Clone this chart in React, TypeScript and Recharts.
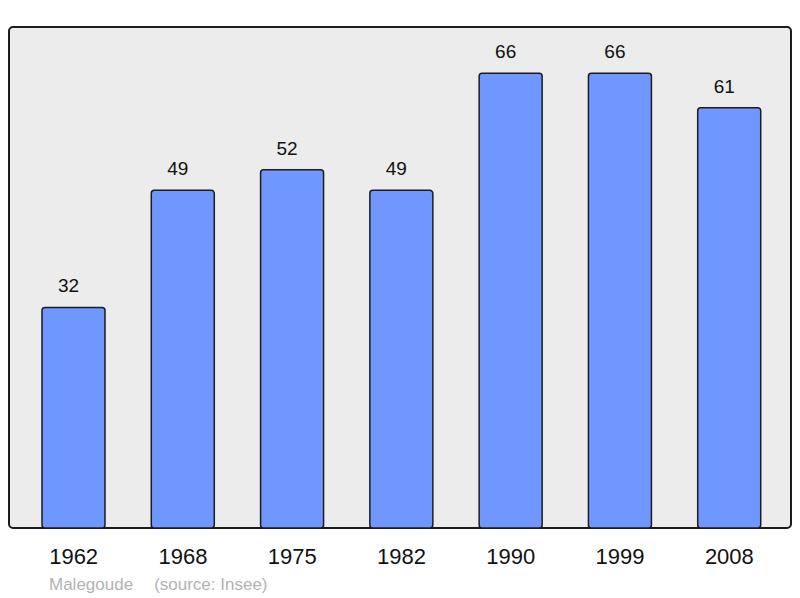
import { BarChart, Bar, XAxis, YAxis, LabelList } from "recharts";

const years = ["1962", "1968", "1975", "1982", "1990", "1999", "2008"];
const population = [32, 49, 52, 49, 66, 66, 61];

const data = years.map((year, i) => ({ year, population: population[i] }));

// plot box (page pixels)
const left = 9;
const top = 27;
const plotW = 782;
const plotH = 501;

const font = "Liberation Sans, Arial, sans-serif";

export default function App() {
  return (
    <div style={{ position: "absolute", left: 0, top: 0, width: 800, height: 598, background: "#fff" }}>
      <div
        style={{
          position: "absolute",
          left: left - 1,
          top: top - 1,
          width: plotW + 2,
          height: plotH + 2,
          boxSizing: "border-box",
          border: "2px solid #1c1c1c",
          borderRadius: 5,
          background: "#ececec",
        }}
      />
      <div style={{ position: "absolute", left: 0, top: 0 }}>
        <BarChart
          width={800}
          height={598}
          data={data}
          margin={{ top: top, left: left, right: 800 - left - plotW, bottom: 598 - top - plotH - 40 }}
        >
          <XAxis
            dataKey="year"
            height={40}
            axisLine={false}
            tickLine={false}
            tickMargin={14}
            padding={{ left: 10, right: 7 }}
            tick={{ fontSize: 22, fill: "#111", fontFamily: font }}
          />
          <YAxis hide domain={[0, 72.7]} />
          <Bar
            dataKey="population"
            fill="#7097ff"
            stroke="#1c1c1c"
            strokeWidth={1.5}
            barSize={63}
            radius={3}
            isAnimationActive={false}
          >
            <LabelList
              dataKey="population"
              position="top"
              offset={15}
              dx={-5}
              style={{ fontSize: 19, fill: "#111", fontFamily: font }}
            />
          </Bar>
        </BarChart>
      </div>
      <div
        style={{
          position: "absolute",
          left: 49,
          top: 575,
          fontSize: 17,
          color: "#b3b3b3",
          fontFamily: font,
          whiteSpace: "pre",
        }}
      >
        <span>Malegoude</span>
        <span style={{ marginLeft: 21 }}>(source: Insee)</span>
      </div>
    </div>
  );
}
